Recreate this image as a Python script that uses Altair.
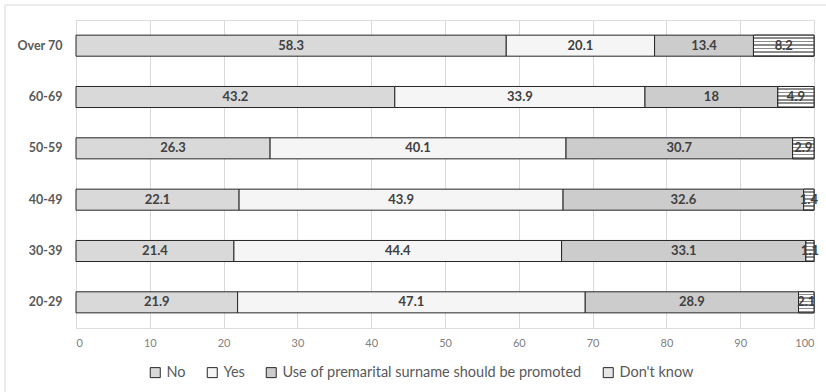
import altair as alt
import pandas as pd

ages = ["Over 70", "60-69", "50-59", "40-49", "30-39", "20-29"]
responses = ["No", "Yes", "Use of premarital surname should be promoted", "Don't know"]
no_vals = [58.3, 43.2, 26.3, 22.1, 21.4, 21.9]
yes_vals = [20.1, 33.9, 40.1, 43.9, 44.4, 47.1]
promoted_vals = [13.4, 18, 30.7, 32.6, 33.1, 28.9]
dk_vals = [8.2, 4.9, 2.9, 1.4, 1.1, 2.1]
x_ticks = [0, 10, 20, 30, 40, 50, 60, 70, 80, 90, 100]

series = [no_vals, yes_vals, promoted_vals, dk_vals]
rows = []
for ri, (resp, vals) in enumerate(zip(responses, series)):
    for age, v in zip(ages, vals):
        rows.append({"age": age, "response": resp, "order": ri, "value": v,
                     "label": ("%g" % v)})
df = pd.DataFrame(rows)

FONT = "Lato"

base = alt.Chart(df).transform_stack(
    stack="value", groupby=["age"], as_=["x0", "x1"], sort=[alt.SortField("order")]
).transform_calculate(mid="(datum.x0 + datum.x1) / 2")

y_enc = alt.Y("age:N", sort=ages, title=None,
              scale=alt.Scale(paddingInner=0.59, paddingOuter=0.295),
              axis=alt.Axis(domain=False, ticks=False, labelPadding=14,
                            labelFontSize=12.5, labelFontWeight="bold",
                            labelColor="#595959", labelFont=FONT))

x_enc = alt.X("x0:Q", title=None,
              scale=alt.Scale(domain=[0, 100], nice=False),
              axis=alt.Axis(values=x_ticks, domain=False, ticks=False,
                            labelPadding=9, labelFontSize=11,
                            labelColor="#808080", labelFont=FONT,
                            grid=True, gridColor="#d9d9d9", gridWidth=1))

bars = base.mark_bar(stroke="#262626", strokeWidth=1).encode(
    y=y_enc,
    x=x_enc,
    x2="x1:Q",
    color=alt.Color("response:N", sort=responses, title=None,
                    scale=alt.Scale(domain=responses,
                                    range=["#d9d9d9", "#f5f5f5", "#cccccc", "#e6e6e6"]),
                    legend=alt.Legend(orient="none", direction="horizontal",
                                      legendX=72, legendY=345,
                                      symbolType="square", symbolSize=100,
                                      symbolStrokeColor="#262626", symbolStrokeWidth=1,
                                      labelFontSize=14.5, labelColor="#595959",
                                      labelFont=FONT, columnPadding=19,
                                      labelOffset=4, labelLimit=0)),
)

stops = []
n = 6
for i in range(n):
    a = i / n
    b = (i + 0.55) / n
    c = (i + 1) / n
    stops += [alt.GradientStop(offset=a, color="#ffffff"),
              alt.GradientStop(offset=b, color="#ffffff"),
              alt.GradientStop(offset=b, color="#8c8c8c"),
              alt.GradientStop(offset=c, color="#8c8c8c")]
stripes = alt.LinearGradient(gradient="linear", x1=0, y1=0, x2=0, y2=1, stops=stops)

dk = base.transform_filter(alt.datum.response == "Don't know").mark_bar(
    fill=stripes, stroke="#262626", strokeWidth=1
).encode(y=alt.Y("age:N", sort=ages), x="x0:Q", x2="x1:Q")

labels = base.mark_text(fontSize=13, fontWeight="bold", color="#404040", font=FONT).encode(
    y=alt.Y("age:N", sort=ages), x="mid:Q", text="label:N"
)

border = alt.Chart(pd.DataFrame({"a": [0]})).mark_rect(
    fill=None, stroke="#d9d9d9", strokeWidth=1
).encode(x=alt.value(-71), x2=alt.value(760), y=alt.value(-15), y2=alt.value(390))

chart = alt.layer(border, bars, dk, labels).properties(
    width=738, height=308,
    autosize=alt.AutoSizeParams(type="none"),
    padding={"left": 76, "top": 20, "right": 12, "bottom": 64},
).configure_view(stroke=None).configure(background="white")

chart.save("out.html", embed_options={"renderer": "svg", "actions": False})
